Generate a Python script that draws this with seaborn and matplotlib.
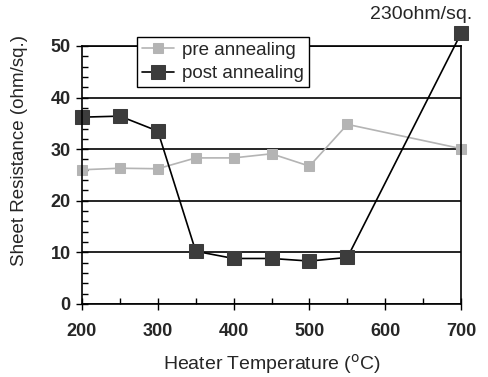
import seaborn as sns
import pandas as pd
import matplotlib.pyplot as plt
from matplotlib.ticker import MultipleLocator

temps = [200, 250, 300, 350, 400, 450, 500, 550, 700]
pre_annealing = [26.0, 26.3, 26.2, 28.3, 28.3, 29.1, 26.7, 34.8, 30.1]
post_annealing = [36.2, 36.4, 33.5, 10.2, 8.8, 8.8, 8.3, 9.0, 52.5]

df = pd.DataFrame({"Temperature": temps, "pre": pre_annealing, "post": post_annealing})

sns.set_style("ticks")
plt.rcParams["font.family"] = ["Liberation Sans", "DejaVu Sans"]

fig = plt.figure(figsize=(4.88, 3.77), dpi=100)
ax = fig.add_axes([0.168, 0.194, 0.777, 0.684])

sns.lineplot(ax=ax, data=df, x="Temperature", y="pre", label="pre annealing",
             color="#b4b4b4", marker="s", markersize=7, markeredgecolor="#b4b4b4",
             linewidth=1.2, clip_on=False)
sns.lineplot(ax=ax, data=df, x="Temperature", y="post", label="post annealing",
             color="black", marker="s", markersize=9.5, markerfacecolor="#3c3c3c",
             markeredgecolor="#3c3c3c", linewidth=1.2, clip_on=False)

ax.set_xlim(200, 700)
ax.set_ylim(0, 50)
ax.xaxis.set_major_locator(MultipleLocator(100))
ax.xaxis.set_minor_locator(MultipleLocator(50))
ax.yaxis.set_major_locator(MultipleLocator(10))
ax.yaxis.set_minor_locator(MultipleLocator(2))
ax.tick_params(which="major", direction="inout", length=9, width=1, color="black")
ax.tick_params(which="minor", direction="in", length=4, width=1, color="black")
ax.tick_params(axis="both", labelsize=13)
ax.tick_params(axis="x", pad=9)
for lab in ax.get_xticklabels() + ax.get_yticklabels():
    lab.set_fontweight("bold")
ax.grid(axis="y", which="major", color="black", linewidth=1.2)
for s in ax.spines.values():
    s.set_color("black")
    s.set_linewidth(1.2)

ax.set_xlabel("Heater Temperature ($^{\\mathrm{o}}$C)", fontsize=14, labelpad=9)
ax.set_ylabel("Sheet Resistance (ohm/sq.)", fontsize=13.5)
ax.yaxis.set_label_coords(-0.143, 0.593)

ax.annotate("230ohm/sq.", xy=(700, 52.5), xytext=(-29, 7), textcoords="offset points",
            ha="center", va="bottom", fontsize=14, annotation_clip=False)

leg = ax.legend(loc="upper left", bbox_to_anchor=(0.145, 1.035), fontsize=13.5,
                frameon=True, fancybox=False, edgecolor="black", framealpha=1,
                handlelength=1.7, borderpad=0.25, labelspacing=0.35, handletextpad=0.45,
                borderaxespad=0)
leg.get_frame().set_linewidth(1.0)

fig.savefig("out.png", dpi=100)
